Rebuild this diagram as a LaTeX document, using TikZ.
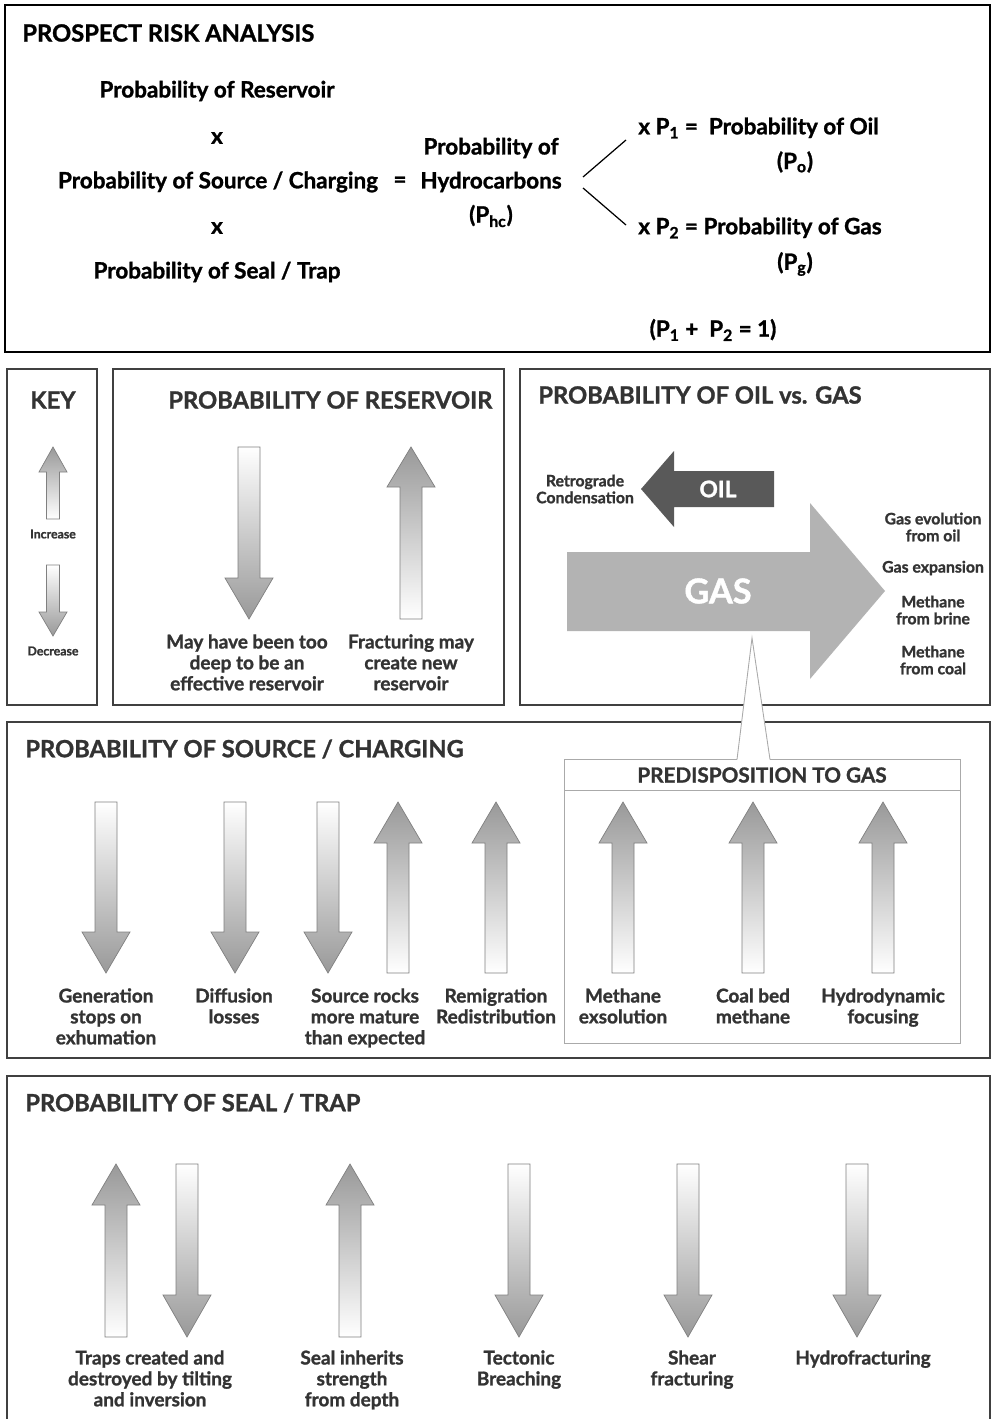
\documentclass[tikz,border=0pt]{standalone}
\usepackage{fontspec}
\setmainfont{Lato}[BoldFeatures={FakeBold=1.2}]
\usetikzlibrary{positioning}
\definecolor{inkgray}{HTML}{333333}
\definecolor{framegray}{HTML}{404040}
\definecolor{oilgray}{HTML}{595959}
\definecolor{gasgray}{HTML}{B3B3B3}
\definecolor{headgray}{HTML}{999999}
\definecolor{arrline}{HTML}{808080}
\definecolor{thingray}{HTML}{AAAAAA}

\begin{document}
\begin{tikzpicture}[x=0.02cm, y=-0.02cm,
  frame/.style={draw=framegray, line width=1.2pt},
  ttl/.style={font=\fontsize{13.5}{15}\selectfont\bfseries, text=inkgray, anchor=west, inner sep=0pt},
  eq/.style={font=\fontsize{12.8}{14}\selectfont\bfseries, text=black, inner sep=0pt},
  lbl/.style={font=\fontsize{10.8}{11.9}\selectfont\bfseries, text=inkgray, align=center, anchor=north, inner sep=0pt},
  small/.style={font=\fontsize{9}{9.6}\selectfont\bfseries, text=inkgray, align=center, inner sep=0pt},
  tinytxt/.style={font=\fontsize{7}{8}\selectfont\bfseries, text=inkgray, inner sep=0pt},
  uparr/.style={draw=arrline, line width=0.4pt, top color=headgray, bottom color=white},
  downarr/.style={draw=arrline, line width=0.4pt, top color=white, bottom color=headgray}
]
  \useasboundingbox (0,0) rectangle (992,1419);
  \fill[white] (0,0) rectangle (992,1419);

  % ---- prospect risk analysis (top panel)
  \draw[line width=1.3pt, black] (5,5) rectangle (990,352);
  \node[ttl, text=black] (pra) at (22,33) {PROSPECT RISK ANALYSIS};
  \node[eq] (pres) at (217,91) {Probability of Reservoir};
  \node[eq] (xa) at (217,138) {x};
  \node[eq] (psrc) at (218,182) {Probability of Source / Charging};
  \node[eq] (eqs) at (400,182) {=};
  \node[eq] (xb) at (217,228) {x};
  \node[eq] (pseal) at (217,272) {Probability of Seal / Trap};
  \node[eq] (phca) at (491,148) {Probability of};
  \node[eq] (phcb) at (491,182) {Hydrocarbons};
  \node[eq] (phcc) at (491,216) {(P\textsubscript{hc})};
  \node[eq, anchor=west] (poil) at (638,128) {x P\textsubscript{1} =\ \ Probability of Oil};
  \node[eq] (po) at (795,162) {(P\textsubscript{o})};
  \node[eq, anchor=west] (pgas) at (638,228) {x P\textsubscript{2} = Probability of Gas};
  \node[eq] (pg) at (795,264) {(P\textsubscript{g})};
  \node[eq] (psum) at (713,330) {(P\textsubscript{1} +\ \ P\textsubscript{2} = 1)};
  % branches to oil and gas
  \coordinate (forkA) at (583,177);
  \coordinate (forkB) at (583,188);
  \coordinate (oilend) at (626,140);
  \coordinate (gasend) at (626,225);
  \draw[line width=0.7pt] (forkA) -- (oilend);
  \draw[line width=0.7pt] (forkB) -- (gasend);

  % ---- key
  \draw[frame] (7,369) rectangle (97,705);
  \node[ttl, anchor=center] (key) at (53,400) {KEY};
  \draw[uparr] (46.5,519) -- (46.5,472) -- (39,472) -- (53,447) -- (67,472) -- (59.5,472) -- (59.5,519) -- cycle;
  \node[tinytxt] (inc) at (53,534) {Increase};
  \draw[downarr] (46.5,565) -- (59.5,565) -- (59.5,612) -- (67,612) -- (53,636) -- (39,612) -- (46.5,612) -- cycle;
  \node[tinytxt] (dec) at (53,651) {Decrease};

  % ---- reservoir
  \draw[frame] (113,369) rectangle (504,705);
  \node[ttl] (resttl) at (168,400) {PROBABILITY OF RESERVOIR};
  \foreach \x/\ya/\yb/\yc in {249/447/578/619} {
    \draw[downarr] ({\x-11},\ya) -- ({\x+11},\ya) -- ({\x+11},\yb) -- ({\x+24},\yb) -- (\x,\yc) -- ({\x-24},\yb) -- ({\x-11},\yb) -- cycle;
  }
  \foreach \x/\ya/\yb/\yc in {411/619/487/447} {
    \draw[uparr] ({\x-11},\ya) -- ({\x+11},\ya) -- ({\x+11},\yb) -- ({\x+24},\yb) -- (\x,\yc) -- ({\x-24},\yb) -- ({\x-11},\yb) -- cycle;
  }
  \node[lbl] (deep) at (247,634) {May have been too\\deep to be an\\effective reservoir};
  \node[lbl] (frac) at (411,634) {Fracturing may\\create new\\reservoir};

  % ---- oil vs gas
  \draw[frame] (520,369) rectangle (990,705);
  \node[ttl] (ogttl) at (538,395) {PROBABILITY OF OIL vs. GAS};
  \fill[oilgray] (641,489) -- (674,451) -- (674,471) -- (774,471) -- (774,507) -- (674,507) -- (674,527) -- cycle;
  \node[font=\fontsize{13}{14}\selectfont\bfseries, text=white] (oil) at (718,489) {OIL};
  \fill[gasgray] (567,552) -- (810,552) -- (810,503) -- (885,591) -- (810,679) -- (810,631) -- (567,631) -- cycle;
  \node[font=\fontsize{19.5}{22}\selectfont\bfseries, text=white] (gas) at (718,591) {GAS};
  \node[small] (retro) at (585,489) {Retrograde\\Condensation};
  \node[small] (gevo) at (933,527) {Gas evolution\\from oil};
  \node[small] (gexp) at (933,568) {Gas expansion};
  \node[small] (mbrine) at (933,610) {Methane\\from brine};
  \node[small] (mcoal) at (933,660) {Methane\\from coal};

  % ---- source / charging
  \draw[frame] (7,722) rectangle (990,1058);
  \node[ttl] (srcttl) at (25,749) {PROBABILITY OF SOURCE / CHARGING};
  \draw[thingray, line width=0.5pt] (564,759) rectangle (960,1043);
  \draw[thingray, line width=0.5pt] (564,790) -- (960,790);
  \node[font=\fontsize{11.8}{13}\selectfont\bfseries, text=inkgray] (predis) at (762,775) {PREDISPOSITION TO GAS};
  \foreach \x in {106,235,328} {
    \draw[downarr] ({\x-11},802) -- ({\x+11},802) -- ({\x+11},932) -- ({\x+24},932) -- (\x,973) -- ({\x-24},932) -- ({\x-11},932) -- cycle;
  }
  \foreach \x in {398,496,623,753,883} {
    \draw[uparr] ({\x-11},973) -- ({\x+11},973) -- ({\x+11},843) -- ({\x+24},843) -- (\x,802) -- ({\x-24},843) -- ({\x-11},843) -- cycle;
  }
  \node[lbl] (gen) at (106,988) {Generation\\stops on\\exhumation};
  \node[lbl] (diff) at (234,988) {Diffusion\\losses};
  \node[lbl] (srock) at (365,988) {Source rocks\\more mature\\than expected};
  \node[lbl] (remig) at (496,988) {Remigration\\Redistribution};
  \node[lbl] (exsol) at (623,988) {Methane\\exsolution};
  \node[lbl] (coal) at (753,988) {Coal bed\\methane};
  \node[lbl] (hydro) at (883,988) {Hydrodynamic\\focusing};

  % callout from gas arrow to predisposition box
  \fill[white] (737,760) -- (752,638) -- (770,760) -- cycle;
  \draw[thingray, line width=0.5pt] (737,759.5) -- (752,638) -- (770,759.5);

  % ---- seal / trap
  \draw[frame] (7,1430) -- (7,1076) -- (990,1076) -- (990,1430);
  \node[ttl] (sealttl) at (25,1103) {PROBABILITY OF SEAL / TRAP};
  \foreach \x in {116,350} {
    \draw[uparr] ({\x-11},1337) -- ({\x+11},1337) -- ({\x+11},1205) -- ({\x+24},1205) -- (\x,1164) -- ({\x-24},1205) -- ({\x-11},1205) -- cycle;
  }
  \foreach \x in {187,519,688,857} {
    \draw[downarr] ({\x-11},1164) -- ({\x+11},1164) -- ({\x+11},1295) -- ({\x+24},1295) -- (\x,1337) -- ({\x-24},1295) -- ({\x-11},1295) -- cycle;
  }
  \node[lbl] (traps) at (150,1350) {Traps created and\\destroyed by tilting\\and inversion};
  \node[lbl] (inherit) at (352,1350) {Seal inherits\\strength\\from depth};
  \node[lbl] (tect) at (519,1350) {Tectonic\\Breaching};
  \node[lbl] (shear) at (692,1350) {Shear\\fracturing};
  \node[lbl] (hfrac) at (863,1350) {Hydrofracturing};
\end{tikzpicture}
\end{document}
